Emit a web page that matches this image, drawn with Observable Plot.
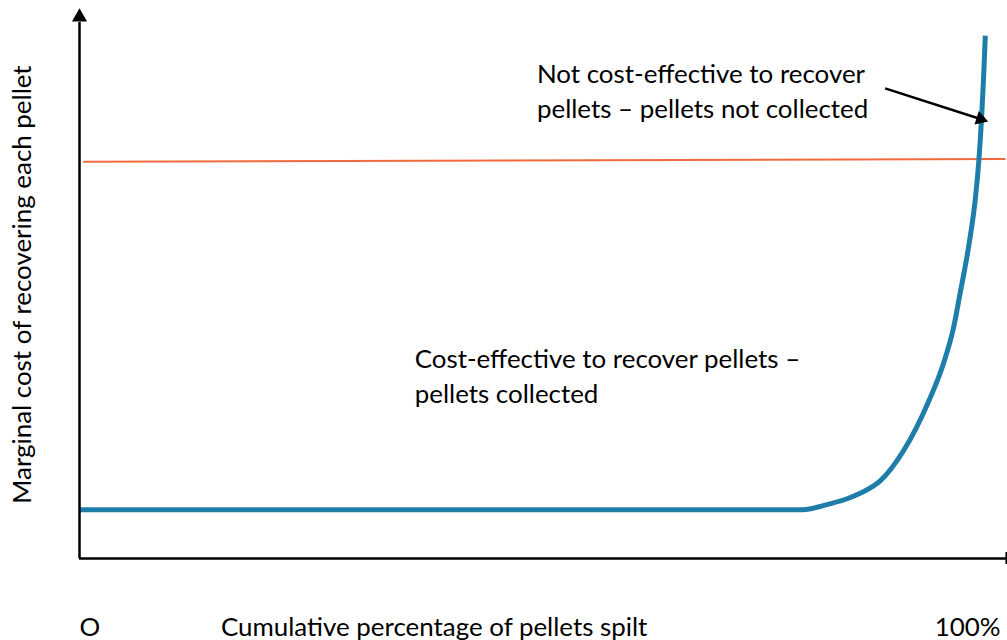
<!DOCTYPE html>
<html>
<head>
<meta charset="utf-8">
<script src="https://cdn.jsdelivr.net/npm/d3@7"></script>
<script src="https://cdn.jsdelivr.net/npm/@observablehq/plot@0.6"></script>
<style>
  html, body { margin: 0; padding: 0; background: #fff; }
</style>
</head>
<body>
<div id="chart"></div>
<script>
// Cumulative percentage of pellets spilt (x) vs marginal cost (y), arbitrary 0–100 units
const curveX = [0, 78, 81.1, 82.9, 84.3, 86.5, 89.0, 91.6, 93.3, 94.4, 95.1, 95.9, 96.45, 96.72, 97.12, 97.4, 97.62, 97.82];
const curveY = [8.9, 8.9, 10.0, 10.9, 11.9, 14.2, 19.7, 28.3, 35.6, 42.2, 48.4, 55.7, 61.7, 65.3, 72.6, 79.9, 87.2, 95.4];

// Marginal benefit (threshold) line
const thresholdX = [0.4, 100];
const thresholdY = [72.4, 72.9];

// Annotations
const annoLabels = [
  "Not cost-effective to recover\npellets \u2013 pellets not collected",
  "Cost-effective to recover pellets \u2013\npellets collected"
];
const annoX = [49.4, 36.2];
const annoY = [85.6, 33.6];

// Pointer arrow of the first annotation
const pointerFrom = {x: 87.0, y: 85.8};
const pointerTo = {x: 97.3, y: 80.2};
const pointerAngle = 107.8;

const yTitle = "Marginal cost of recovering each pellet";
const xTitle = "Cumulative percentage of pellets spilt";
const xEndLabels = ["O", "100%"];

const family = "Lato, 'Open Sans', sans-serif";
function fitSize(text, target) {
  const ctx = document.createElement("canvas").getContext("2d");
  ctx.font = "100px Lato";
  return 100 * target / ctx.measureText(text).width;
}
const fs = fitSize(xTitle, 427);

const curve = curveX.map((x, i) => ({x, y: curveY[i]}));
const annos = annoLabels.map((t, i) => ({t, x: annoX[i], y: annoY[i]}));

const chart = Plot.plot({
  width: 1007,
  height: 640,
  marginLeft: 79,
  marginRight: 2,
  marginTop: 10,
  marginBottom: 82,
  x: {domain: [0, 100], axis: null},
  y: {domain: [0, 100], axis: null},
  style: {background: "#fff", fontFamily: family, color: "#000", overflow: "visible"},
  marks: [
    // threshold line
    Plot.link([0], {x1: thresholdX[0], y1: thresholdY[0], x2: thresholdX[1], y2: thresholdY[1], stroke: "#ef6a3c", strokeWidth: 2}),
    // marginal cost curve
    Plot.line(curve, {x: "x", y: "y", curve: "monotone-x", stroke: "#1f7ea9", strokeWidth: 5, strokeLinecap: "butt"}),
    // axes
    Plot.ruleY([0], {x1: 0, x2: 100.1, stroke: "#000", strokeWidth: 2.5}),
    Plot.ruleX([100.1], {y1: -1.1, y2: 1.1, stroke: "#000", strokeWidth: 2}),
    Plot.ruleX([0], {y1: 0, y2: 97.8, stroke: "#000", strokeWidth: 2.5}),
    Plot.dot([0], {x: 0, y: 98.8, symbol: "triangle", r: 5.6, fill: "#000", stroke: null}),
    // pointer arrow
    Plot.link([0], {x1: pointerFrom.x, y1: pointerFrom.y, x2: pointerTo.x, y2: pointerTo.y, stroke: "#000", strokeWidth: 2.5}),
    Plot.dot([0], {x: pointerTo.x, y: pointerTo.y, symbol: "triangle", r: 5.2, rotate: pointerAngle, fill: "#000", stroke: null}),
    // annotations
    Plot.text(annos, {x: "x", y: "y", text: "t", textAnchor: "start", lineAnchor: "middle", lineHeight: 1.35, fontSize: fs, fill: "#000"}),
    // axis titles
    Plot.text([yTitle], {frameAnchor: "left", dx: -57, rotate: -90, textAnchor: "middle", lineAnchor: "middle", fontSize: fs, fill: "#000"}),
    Plot.text([xTitle], {x: 38.3, frameAnchor: "bottom", dy: 69, lineAnchor: "middle", fontSize: fs, fill: "#000"}),
    Plot.text([xEndLabels[0]], {x: 0, frameAnchor: "bottom", dy: 69, textAnchor: "start", lineAnchor: "middle", fontSize: fs, fill: "#000"}),
    Plot.text([xEndLabels[1]], {x: 100, frameAnchor: "bottom", dy: 69, dx: -5, textAnchor: "end", lineAnchor: "middle", fontSize: fs, fill: "#000"})
  ]
});
document.getElementById("chart").appendChild(chart);
</script>
</body>
</html>
